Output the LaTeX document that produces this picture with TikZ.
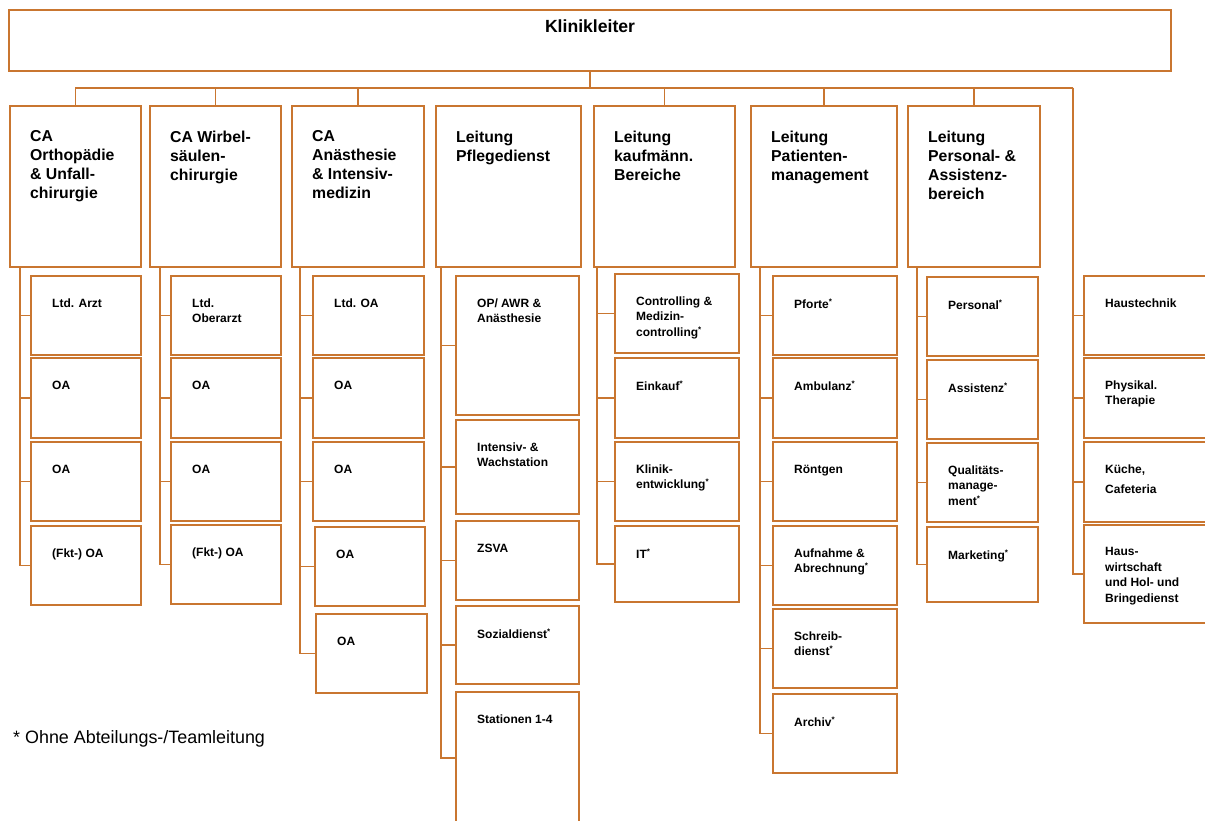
\documentclass[tikz,border=0pt]{standalone}
\usepackage{fontspec}
\setmainfont{Liberation Sans}
\definecolor{oc}{RGB}{201,118,48}
\newcommand{\sas}{\textsuperscript{\fontsize{8}{8}\selectfont *}}
\newcommand{\mkbox}[7]{%
  \node[bx, minimum width={#4-#2}, minimum height={#5-#3}] (#1) at (#2,#3) {};
  \node[#6] (#1-t) at (#1.north west) {#7};}
\tikzset{
  bx/.style={draw=oc, line width=1.8pt, inner sep=0pt, outer sep=0pt, anchor=north west},
  ht/.style={anchor=north west, inner sep=0pt, align=left, xshift=20pt, yshift=-24.5pt,
    font=\bfseries\fontsize{15.8}{19}\selectfont},
  sx/.style={anchor=north west, inner sep=0pt, align=left, xshift=21pt, yshift=-22.5pt,
    font=\bfseries\fontsize{12}{15.5}\selectfont},
  ln/.style={draw=oc, line width=1.8pt},
}
\begin{document}
\begin{tikzpicture}[x=1pt,y=-1pt]
\clip (0,0) rectangle (1205,821);
\fill[white] (0,0) rectangle (1205,821);
% top
\node[bx, minimum width=1162, minimum height=61] (top) at (9,10) {};
\node[anchor=base, inner sep=0pt, font=\bfseries\fontsize{17.6}{20}\selectfont] (top-t) at ([yshift=-22.5pt]top.north) {Klinikleiter};
% headers
\mkbox{h1}{10}{106}{141}{267}{ht}{CA\\Orthopädie\\\& Unfall-\\chirurgie}
\mkbox{h2}{150}{106}{281}{267}{ht}{CA Wirbel-\\säulen-\\chirurgie}
\mkbox{h3}{292}{106}{424}{267}{ht}{CA\\Anästhesie\\\& Intensiv-\\medizin}
\mkbox{h4}{436}{106}{581}{267}{ht}{Leitung\\Pflegedienst}
\mkbox{h5}{594}{106}{735}{267}{ht}{Leitung\\kaufmänn.\\Bereiche}
\mkbox{h6}{751}{106}{897}{267}{ht}{Leitung\\Patienten-\\management}
\mkbox{h7}{908}{106}{1040}{267}{ht}{Leitung\\Personal- \&\\Assistenz-\\bereich}
% column 1
\mkbox{a1}{31}{276}{141}{355}{sx}{Ltd. Arzt}
\mkbox{a2}{31}{358}{141}{438}{sx}{OA}
\mkbox{a3}{31}{442}{141}{521}{sx}{OA}
\mkbox{a4}{31}{526}{141}{605}{sx}{(Fkt-) OA}
% column 2
\mkbox{b1}{171}{276}{281}{355}{sx}{Ltd.\\Oberarzt}
\mkbox{b2}{171}{358}{281}{438}{sx}{OA}
\mkbox{b3}{171}{442}{281}{521}{sx}{OA}
\mkbox{b4}{171}{525}{281}{604}{sx}{(Fkt-) OA}
% column 3
\mkbox{c1}{313}{276}{424}{355}{sx}{Ltd. OA}
\mkbox{c2}{313}{358}{424}{438}{sx}{OA}
\mkbox{c3}{313}{442}{424}{521}{sx}{OA}
\mkbox{c4}{315}{527}{425}{606}{sx}{OA}
\mkbox{c5}{316}{614}{427}{693}{sx}{OA}
% column 4
\mkbox{d1}{456}{276}{579}{415}{sx}{OP/ AWR \&\\Anästhesie}
\mkbox{d2}{456}{420}{579}{514}{sx}{Intensiv- \&\\Wachstation}
\mkbox{d3}{456}{521}{579}{600}{sx}{ZSVA}
\mkbox{d4}{456}{606}{579}{684}{sx}{Sozialdienst\sas}
\mkbox{d5}{456}{692}{579}{824}{sx}{Stationen 1-4}
% column 5
\mkbox{e1}{615}{274}{739}{353}{sx}{Controlling \&\\Medizin-\\controlling\sas}
\mkbox{e2}{615}{358}{739}{438}{sx}{Einkauf\sas}
\mkbox{e3}{615}{442}{739}{521}{sx}{Klinik-\\entwicklung\sas}
\mkbox{e4}{615}{526}{739}{602}{sx}{IT\sas}
% column 6
\mkbox{f1}{773}{276}{897}{355}{sx}{Pforte\sas}
\mkbox{f2}{773}{358}{897}{438}{sx}{Ambulanz\sas}
\mkbox{f3}{773}{442}{897}{521}{sx}{Röntgen}
\mkbox{f4}{773}{526}{897}{605}{sx}{Aufnahme \&\\Abrechnung\sas}
\mkbox{f5}{773}{609}{897}{688}{sx}{Schreib-\\dienst\sas}
\mkbox{f6}{773}{694}{897}{773}{sx}{Archiv\sas}
% column 7
\mkbox{g1}{927}{277}{1038}{356}{sx}{Personal\sas}
\mkbox{g2}{927}{360}{1038}{439}{sx}{Assistenz\sas}
\mkbox{g3}{927}{443}{1038}{522}{sx}{Qualitäts-\\manage-\\ment\sas}
\mkbox{g4}{927}{527}{1038}{602}{sx}{Marketing\sas}
% column 8
\mkbox{k1}{1084}{276}{1215}{355}{sx}{Haustechnik}
\mkbox{k2}{1084}{358}{1215}{438}{sx}{Physikal.\\Therapie}
\mkbox{k3}{1084}{442}{1215}{522}{sx}{Küche,\\[5pt]Cafeteria}
\mkbox{k4}{1084}{525}{1215}{623}{sx}{Haus-\\wirtschaft\\und Hol- und\\Bringedienst}
% footnote
\node[anchor=base west, inner sep=0pt, font=\fontsize{17.9}{21}\selectfont] (fn) at (13,743) {* Ohne Abteilungs-/Teamleitung};
% connectors
\draw[ln] (top.south) -- ++(0,17) coordinate (bus);
\foreach \h in {h1,h2,h3,h5,h6,h7} \draw[ln] (bus) -| (\h.north);
\coordinate (rsp) at (1073,88);
\draw[ln] (bus) -- (rsp);
\foreach \s in {k1,k2,k3,k4} \draw[ln] (rsp) |- (\s.west);
\foreach \s in {a1,a2,a3,a4} \draw[ln] ([xshift=10pt]h1.south west) |- (\s.west);
\foreach \s in {b1,b2,b3,b4} \draw[ln] ([xshift=10pt]h2.south west) |- (\s.west);
\foreach \s in {c1,c2,c3,c4,c5} \draw[ln] ([xshift=8pt]h3.south west) |- (\s.west);
\foreach \s in {d1,d2,d3,d4,d5} \draw[ln] ([xshift=5pt]h4.south west) |- (\s.west);
\foreach \s in {e1,e2,e3,e4} \draw[ln] ([xshift=3pt]h5.south west) |- (\s.west);
\foreach \s in {f1,f2,f3,f4,f5,f6} \draw[ln] ([xshift=9pt]h6.south west) |- (\s.west);
\foreach \s in {g1,g2,g3,g4} \draw[ln] ([xshift=9pt]h7.south west) |- (\s.west);
\end{tikzpicture}
\end{document}
